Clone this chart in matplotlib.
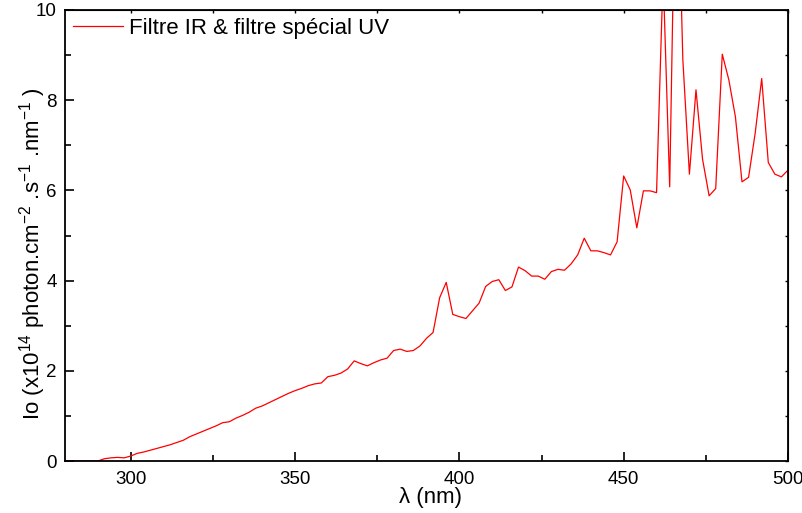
import matplotlib
matplotlib.use("Agg")
import matplotlib.pyplot as plt
import numpy as np

plt.rcParams['font.family'] = ['Liberation Sans', 'DejaVu Sans']
plt.rcParams['mathtext.fontset'] = 'custom'
plt.rcParams['mathtext.rm'] = 'Liberation Sans'
plt.rcParams['mathtext.it'] = 'Liberation Sans'

wavelength = list(range(280, 502, 2))
intensity = [
    0.0, 0.0, 0.0, 0.0, 0.0, 0.0, 0.05, 0.07, 0.08, 0.07,   # 280-298
    0.11, 0.17, 0.20, 0.24, 0.28, 0.32, 0.36, 0.41, 0.46, 0.54,  # 300-318
    0.60, 0.66, 0.72, 0.78, 0.85, 0.87, 0.95, 1.01, 1.08, 1.17,  # 320-338
    1.22, 1.29, 1.36, 1.43, 1.50, 1.56, 1.61, 1.67, 1.71, 1.73,  # 340-358
    1.87, 1.90, 1.95, 2.04, 2.22, 2.16, 2.11, 2.18, 2.24, 2.28,  # 360-378
    2.45, 2.48, 2.43, 2.45, 2.55, 2.72, 2.85, 3.62, 3.96, 3.25,  # 380-398
    3.20, 3.16, 3.33, 3.50, 3.87, 3.98, 4.02, 3.78, 3.86, 4.30,  # 400-418
    4.22, 4.10, 4.10, 4.03, 4.20, 4.25, 4.23, 4.37, 4.57, 4.94,  # 420-438
    4.66, 4.66, 4.62, 4.57, 4.86, 6.32, 6.01, 5.17, 5.99, 5.99,  # 440-458
    5.95, 10.8, 6.08, 14.5, 8.9, 6.36, 8.23, 6.69, 5.88, 6.04,   # 460-478
    9.02, 8.45, 7.63, 6.19, 6.29, 7.26, 8.48, 6.62, 6.36, 6.30,  # 480-498
    6.45,                                                        # 500
]
series_label = "Filtre IR & filtre spécial UV"
x_label = "λ (nm)"
y_label = r"Io (x10$^{14}$ photon.cm$^{-2}$ .s$^{-1}$ .nm$^{-1}$ )"
x_major = [300, 350, 400, 450, 500]
y_major = [0, 2, 4, 6, 8, 10]

fig = plt.figure(figsize=(8.03, 5.13), dpi=100)
ax = fig.add_axes([65/803, 52/513, 723/803, 451/513])
ax.plot(wavelength, intensity, color='#ff0000', lw=0.9, label=series_label)
ax.set_xlim(280, 500)
ax.set_ylim(0, 10)
ax.set_xticks(x_major)
ax.set_xticks([325, 375, 425, 475], minor=True)
ax.set_yticks(y_major)
ax.set_yticks([1, 3, 5, 7, 9], minor=True)
ax.tick_params(axis='both', which='major', direction='in', length=6.5, width=1.2,
               labelsize=13.5)
ax.tick_params(axis='x', which='major', pad=7)
ax.tick_params(axis='y', which='major', pad=6)
ax.tick_params(axis='both', which='minor', direction='in', length=4, width=1.2)
for s in ax.spines.values():
    s.set_linewidth(1.3)

top = ax.secondary_xaxis('top')
top.set_xticks(list(range(300, 501, 25)))
top.tick_params(direction='in', length=2, width=1.0, labeltop=False)
right = ax.secondary_yaxis('right')
right.set_yticks(list(range(0, 11)))
right.tick_params(direction='in', length=2.5, width=1.0, labelright=False)

ax.set_xlabel(x_label, fontsize=16)
ax.xaxis.set_label_coords(0.505, -0.058)
ax.set_ylabel(y_label, fontsize=16)
ax.yaxis.set_label_coords(-0.024, 0.46)

ax.legend(loc='upper left', frameon=False, fontsize=16, handlelength=2.25,
          handletextpad=0.27, borderaxespad=0.15, borderpad=0.2)

fig.savefig("out.png", dpi=100)
